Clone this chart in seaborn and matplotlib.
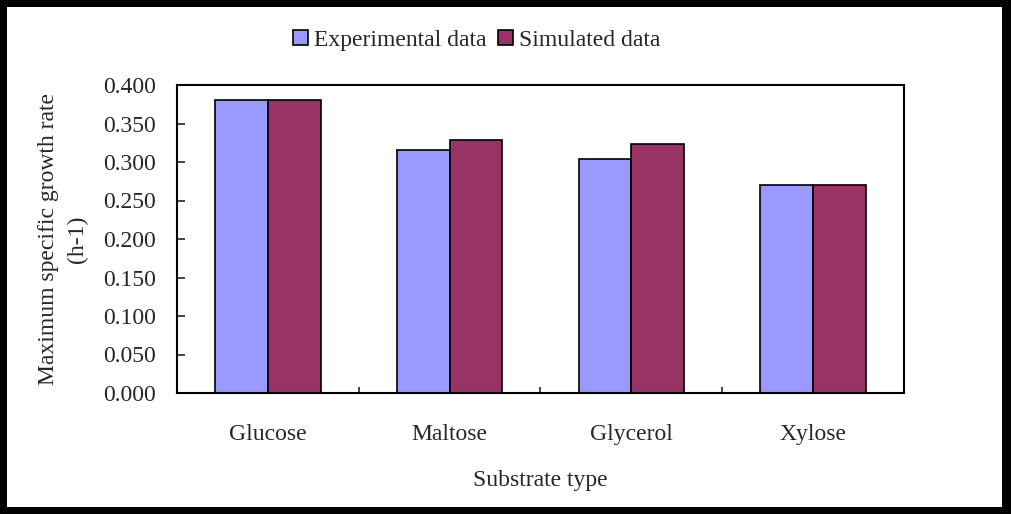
import pandas as pd
import numpy as np
import seaborn as sns
import matplotlib
matplotlib.use("Agg")
import matplotlib.pyplot as plt
from matplotlib.patches import Rectangle

# Chart data
substrates = ["Glucose", "Maltose", "Glycerol", "Xylose"]
experimental = [0.380, 0.315, 0.304, 0.270]
simulated = [0.380, 0.328, 0.323, 0.270]
series_names = ["Experimental data", "Simulated data"]
y_ticks = [0.0, 0.05, 0.10, 0.15, 0.20, 0.25, 0.30, 0.35, 0.40]

df = pd.DataFrame({
    "substrate": substrates * 2,
    "rate": experimental + simulated,
    "series": [series_names[0]] * 4 + [series_names[1]] * 4,
})

sns.set_style("white")
plt.rcParams["font.family"] = ["Liberation Serif", "DejaVu Serif"]
plt.rcParams["font.size"] = 17

fig = plt.figure(figsize=(10.12, 5.14), dpi=100)
fig.patch.set_facecolor("black")
# white inner page inside the black frame
fig.patches.append(Rectangle((7 / 1012, 7 / 514), 995 / 1012, 500 / 514,
                             transform=fig.transFigure, facecolor="white",
                             edgecolor="none", zorder=-10))

ax = fig.add_axes([177 / 1012, 1 - 393 / 514, 727 / 1012, 308 / 514])
ax.set_facecolor("white")
sns.barplot(data=df, x="substrate", y="rate", hue="series",
            palette=["#9999FF", "#993366"], saturation=1, width=0.58, gap=0,
            edgecolor="black", linewidth=1.2, ax=ax)

ax.set_xlim(-0.5, 3.5)
ax.set_ylim(0, 0.4)
ax.set_yticks(y_ticks)
ax.set_yticklabels([f"{v:.3f}" for v in y_ticks])
ax.tick_params(axis="y", direction="in", length=6, width=1.2, pad=15, labelsize=17, left=True)
ax.tick_params(axis="x", which="major", length=0, pad=22, labelsize=17)
ax.set_xticks([0.5, 1.5, 2.5], minor=True)
ax.tick_params(axis="x", which="minor", direction="in", length=4, width=1.2, bottom=True)

for s in ax.spines.values():
    s.set_visible(True)
    s.set_color("black")
    s.set_linewidth(1.5)

ax.set_xlabel("Substrate type", fontsize=17)
ax.set_ylabel("Maximum specific growth rate\n(h-1)", fontsize=17, linespacing=1.45)
ax.xaxis.set_label_coords(0.5, -0.25)
ax.yaxis.set_label_coords(-0.123, 0.5)

ax.legend(loc="center", bbox_to_anchor=(0.471, 0.922), bbox_transform=fig.transFigure,
          ncol=2, frameon=False, handlelength=0.65, handleheight=0.65,
          handletextpad=0.25, columnspacing=0.47, fontsize=17)

fig.savefig("out.png", dpi=100, facecolor=fig.get_facecolor())
